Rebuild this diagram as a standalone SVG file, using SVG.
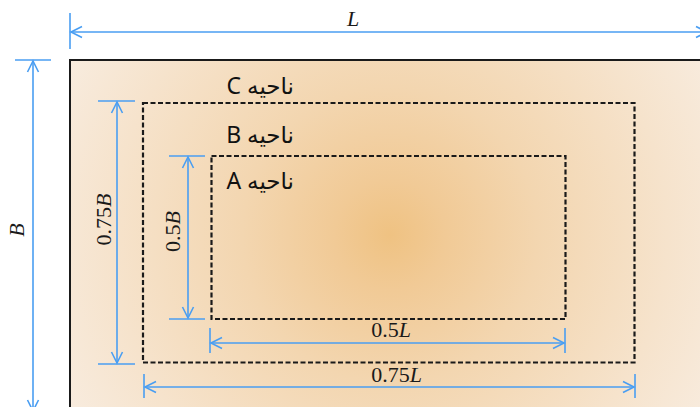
<svg xmlns="http://www.w3.org/2000/svg" width="700" height="407" viewBox="0 0 700 407">
<defs>
<radialGradient id="bg" gradientUnits="userSpaceOnUse" cx="390" cy="235" r="370">
<stop offset="0" stop-color="#EFC282"/>
<stop offset="0.15" stop-color="#F1CA96"/>
<stop offset="0.4" stop-color="#F3D6B0"/>
<stop offset="0.75" stop-color="#F6E3CC"/>
<stop offset="1" stop-color="#F8ECDF"/>
</radialGradient>
<marker id="arr" markerUnits="userSpaceOnUse" markerWidth="14" markerHeight="14" viewBox="-13 -7 14 14" refX="0" refY="0" orient="auto-start-reverse" overflow="visible">
<path d="M-11,-5.5 L0,0 L-11,5.5" fill="none" stroke="#4A9EF2" stroke-width="1.6"/>
</marker>
</defs>
<style>
.dim{stroke:#4A9EF2;stroke-width:1.6;fill:none}
.tick{stroke:#4A9EF2;stroke-width:1.6}
.zone{fill:none;stroke:#1a1a1a;stroke-width:2.2;stroke-dasharray:5 2.5}
.math{font-family:"Liberation Serif","DejaVu Serif",serif;font-size:22px;fill:#1a1a1a}
.it{font-style:italic}
.lab{font-family:"Noto Sans","DejaVu Sans",sans-serif;font-size:23px;fill:#111}
</style>
<g id="plate">
<rect x="70" y="60" width="640" height="352" fill="url(#bg)" stroke="#1a1a1a" stroke-width="2"/>
</g>
<g id="zoneC">
<rect class="zone" x="143" y="103" width="491.5" height="259.5"/>
<text class="lab" x="294" y="94" direction="rtl" unicode-bidi="embed" text-anchor="start">ناحیه C</text>
</g>
<g id="zoneB">
<text class="lab" x="294" y="143" direction="rtl" unicode-bidi="embed" text-anchor="start">ناحیه B</text>
</g>
<g id="zoneA">
<rect class="zone" x="211.5" y="156" width="354" height="163"/>
<text class="lab" x="294" y="189" direction="rtl" unicode-bidi="embed" text-anchor="start">ناحیه A</text>
</g>
<g id="connectors">
<line class="tick" x1="70" y1="13" x2="70" y2="49"/>
<line class="dim" x1="71" y1="32" x2="707" y2="32" marker-start="url(#arr)" marker-end="url(#arr)"/>
<line class="tick" x1="15" y1="60" x2="51" y2="60"/>
<line class="dim" x1="33" y1="61" x2="33" y2="411" marker-start="url(#arr)" marker-end="url(#arr)"/>
<line class="tick" x1="98" y1="101" x2="135" y2="101"/>
<line class="tick" x1="98" y1="364" x2="135" y2="364"/>
<line class="dim" x1="117" y1="102" x2="117" y2="363" marker-start="url(#arr)" marker-end="url(#arr)"/>
<line class="tick" x1="169" y1="156" x2="205" y2="156"/>
<line class="tick" x1="169" y1="319" x2="205" y2="319"/>
<line class="dim" x1="188" y1="157" x2="188" y2="318" marker-start="url(#arr)" marker-end="url(#arr)"/>
<line class="tick" x1="210" y1="328" x2="210" y2="353"/>
<line class="tick" x1="565" y1="328" x2="565" y2="353"/>
<line class="dim" x1="211" y1="343" x2="564" y2="343" marker-start="url(#arr)" marker-end="url(#arr)"/>
<line class="tick" x1="144" y1="374" x2="144" y2="398"/>
<line class="tick" x1="635" y1="374" x2="635" y2="398"/>
<line class="dim" x1="145" y1="387" x2="634" y2="387" marker-start="url(#arr)" marker-end="url(#arr)"/>
</g>
<g id="labels">
<text class="math it" x="353" y="26" text-anchor="middle" font-size="19">L</text>
<text class="math" transform="translate(24,230) rotate(-90)" text-anchor="middle" font-size="19"><tspan class="it">B</tspan></text>
<text class="math" transform="translate(111,219.5) rotate(-90)" text-anchor="middle">0.75<tspan class="it">B</tspan></text>
<text class="math" transform="translate(180,231.5) rotate(-90)" text-anchor="middle">0.5<tspan class="it">B</tspan></text>
<text class="math" x="391" y="337" text-anchor="middle">0.5<tspan class="it">L</tspan></text>
<text class="math" x="396.5" y="382" text-anchor="middle">0.75<tspan class="it">L</tspan></text>
</g>
</svg>
